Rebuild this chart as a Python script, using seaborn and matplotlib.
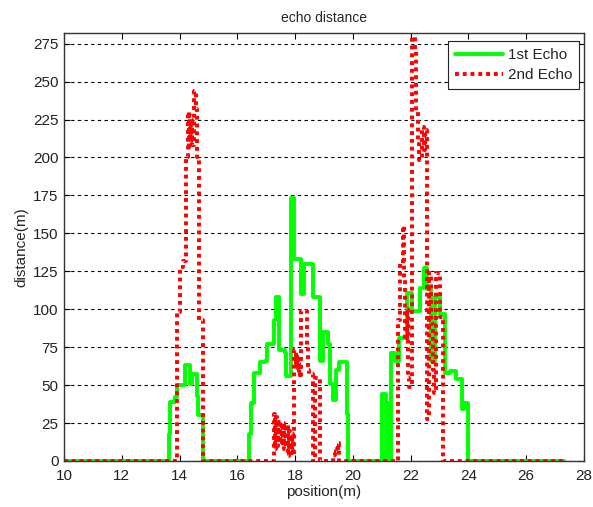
import numpy as np
import pandas as pd
import matplotlib
matplotlib.use("Agg")
import matplotlib.pyplot as plt
import seaborn as sns

# 1st echo (green) - step values, position in m, distance in m
pos1 = [10.0, 13.62, 13.67, 13.84, 13.92, 14.19, 14.36, 14.42, 14.61, 14.65, 14.80,
        16.40, 16.46, 16.57, 16.78, 16.96, 17.01, 17.28, 17.33, 17.44, 17.65, 17.70,
        17.87, 17.97, 18.22, 18.30, 18.63, 18.86, 18.97, 19.15, 19.20, 19.30, 19.43,
        19.53, 19.78, 19.84,
        21.01, 21.14, 21.17, 21.27, 21.31, 21.45, 21.59, 21.86, 22.03, 22.32, 22.47,
        22.58, 22.70, 22.83, 23.00, 23.18, 23.35, 23.58, 23.76, 23.85, 23.99, 27.3]
echo1 = [0, 18, 39, 42, 50, 63, 51, 57, 43, 30, 0,
         18, 38, 58, 65, 66, 77, 93, 108, 73, 71, 56,
         173, 133, 110, 130, 108, 66, 85, 77, 51, 40, 60,
         65, 31, 0,
         44, 0, 38, 0, 71, 66, 81, 111, 99, 114, 127,
         113, 66, 108, 97, 58, 59, 54, 34, 38, 0, 0]

# 2nd echo (red)
pos2 = [10.0, 13.92, 14.00, 14.12, 14.22, 14.28, 14.31, 14.34, 14.37, 14.40, 14.43,
        14.50, 14.58, 14.62, 14.66, 14.80,
        17.27, 17.30, 17.33, 17.36, 17.40, 17.44, 17.49, 17.53, 17.58, 17.63, 17.68,
        17.75, 17.80, 17.84, 17.88, 17.92, 17.97, 18.02, 18.05, 18.09, 18.13, 18.17,
        18.22, 18.40, 18.45, 18.49, 18.61, 18.68, 18.86,
        19.32, 19.38, 19.43, 19.47, 19.53,
        21.57, 21.63, 21.72, 21.78, 21.82, 21.87, 21.90, 21.95, 22.05, 22.15, 22.20,
        22.25, 22.30, 22.40, 22.45, 22.50, 22.56, 22.65, 22.72, 22.77, 22.82, 22.88,
        23.00, 23.12, 27.3]
echo2 = [0, 98, 128, 132, 200, 230, 205, 228, 210, 225, 208,
         244, 232, 200, 93, 0,
         31, 8, 29, 10, 27, 12, 26, 10, 25, 8, 24,
         3, 20, 5, 18, 4, 73, 62, 70, 58, 65, 55,
         99, 75, 60, 57, 0, 55, 0,
         4, 8, 6, 12, 0,
         93, 130, 155, 120, 80, 100, 55, 49, 300, 270, 230,
         210, 198, 220, 205, 218, 28, 124, 90, 60, 45, 124,
         95, 0, 0]

xticks = np.arange(10, 29, 2)
yticks = np.arange(0, 276, 25)

df1 = pd.DataFrame({"position": pos1, "distance": echo1})
df2 = pd.DataFrame({"position": pos2, "distance": echo2})

sns.set_style("white")
plt.rcParams["font.family"] = ["Liberation Sans", "DejaVu Sans"]

fig = plt.figure(figsize=(5.93, 5.07), dpi=100)
ax = fig.add_axes([64 / 593, 46 / 507, 520 / 593, 428 / 507])

sns.lineplot(data=df1, x="position", y="distance", ax=ax, color="#00ff00",
             lw=2.8, drawstyle="steps-post", sort=False, estimator=None,
             label="1st Echo")
sns.lineplot(data=df2, x="position", y="distance", ax=ax, color="#ff0000",
             lw=2.8, linestyle=(0, (1, 1)), drawstyle="steps-post", sort=False,
             estimator=None, label="2nd Echo")

ax.set_xlim(10, 28)
ax.set_ylim(0, 282)
ax.set_xticks(xticks)
ax.set_yticks(yticks)
ax.yaxis.grid(True, color="black", linestyle=(0, (3, 3)), lw=0.8)
ax.xaxis.grid(False)
ax.set_axisbelow(True)
ax.tick_params(direction="in", length=4, width=0.8, colors="black",
               labelsize=11, top=True, right=True, bottom=True, left=True)
ax.tick_params(axis="y", labelcolor="#222222", pad=4)
ax.tick_params(axis="x", labelcolor="#222222", pad=6)
for s in ax.spines.values():
    s.set_color("#333333")
    s.set_linewidth(1.0)

ax.set_title("echo distance", fontsize=10, pad=8)
ax.set_xlabel("position(m)", fontsize=11, labelpad=1)
ax.set_ylabel("distance(m)", fontsize=11, labelpad=3)

leg = ax.legend(loc="upper right", bbox_to_anchor=(0.991, 0.981),
                borderaxespad=0, fontsize=11, handlelength=3.15,
                handletextpad=0.35, labelspacing=0.4, borderpad=0.45,
                fancybox=False, framealpha=1)
leg.get_frame().set_edgecolor("#222222")
leg.get_frame().set_linewidth(0.8)

fig.savefig("out.png", dpi=100)
